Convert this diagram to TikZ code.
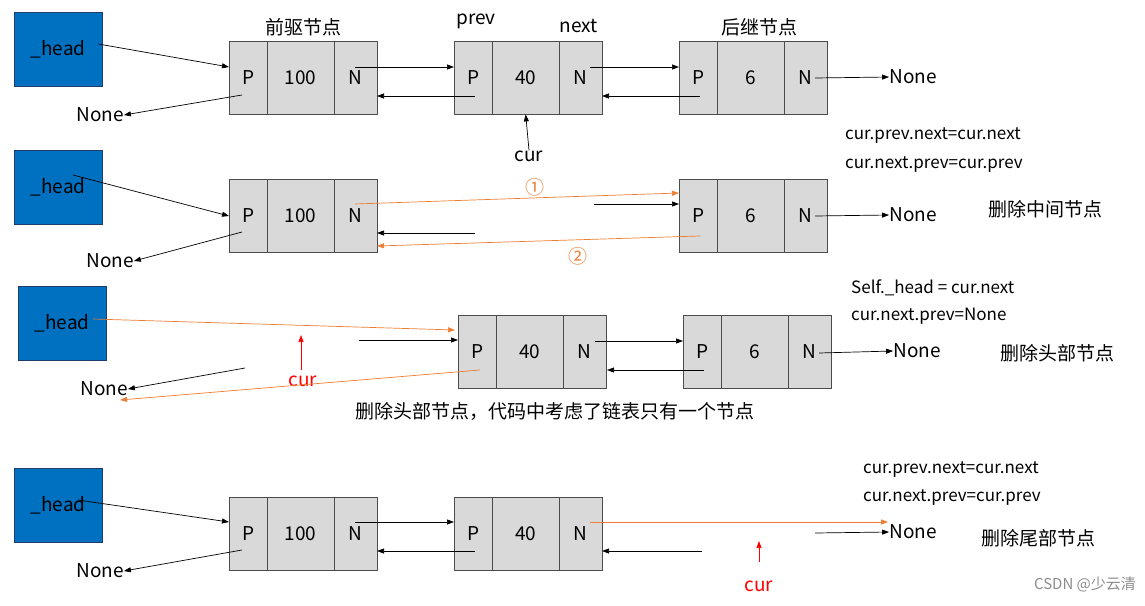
\documentclass[tikz,border=0pt]{standalone}
\usepackage{fontspec}
\setmainfont{Noto Sans CJK SC}
\usetikzlibrary{arrows.meta}
\definecolor{hblue}{RGB}{0,112,192}
\definecolor{hborder}{RGB}{30,60,110}
\definecolor{orng}{RGB}{237,125,49}
\definecolor{cellg}{RGB}{217,217,217}
\tikzset{
  headbox/.style={draw=hborder,fill=hblue,minimum width=88pt,minimum height=74pt,inner sep=0,font=\fontsize{19}{20}\selectfont},
  cell/.style={draw=black!70,fill=cellg,minimum height=73pt,inner sep=0,font=\fontsize{19}{20}\selectfont},
  lbl/.style={font=\fontsize{19}{20}\selectfont,inner sep=0},
  cjk/.style={font=\fontsize{19}{20}\selectfont,inner sep=0},
  code/.style={font=\fontsize{17}{18}\selectfont,inner sep=0,anchor=west},
  ar/.style={-{Triangle[length=7pt,width=5pt]},line width=0.7pt},
  oar/.style={ar,draw=orng},
  rar/.style={ar,draw=red},
}
\newcommand{\llnode}[4]{%
  \node[cell,minimum width=38pt,anchor=north west] (#1p) at (#2,#3) {P};
  \node[cell,minimum width=67pt,anchor=north west] (#1v) at (#2+38,#3) {#4};
  \node[cell,minimum width=43pt,anchor=north west] (#1n) at (#2+105,#3) {N};
}
\begin{document}
\begin{tikzpicture}[x=1pt,y=-1pt]
\useasboundingbox (0,0) rectangle (1145,605);
% ---------- row 1
\node[headbox,anchor=north west] (h1) at (14,12) {\_head};
\llnode{a}{229}{41}{100}
\llnode{b}{454}{41}{40}
\llnode{c}{679}{41}{6}
\node[cjk] (t1) at (303,27) {前驱节点};
\node[lbl] (t2) at (476,21) {prev};
\node[lbl] (t3) at (579,26) {next};
\node[cjk] (t4) at (759,27) {后继节点};
\node[lbl] (n1) at (100,115) {None};
\node[lbl] (n2) at (913,77) {None};
\node[lbl] (cur1) at (529,156) {cur};
\draw[ar] (h1.north east)++(-4,32) -- (229,67);
\draw[ar] (242,95) -- (n1.east);
\draw[ar] (355,67) -- (454,67);
\draw[ar] (475,96) -- (377,96);
\draw[ar] (590,67) -- (679,67);
\draw[ar] (700,96) -- (602,96);
\draw[ar] (815,78) -- (n2.west);
\draw[ar] (cur1.north) -- (bv.south);
% ---------- row 2
\node[headbox,anchor=north west] (h2) at (14,150) {\_head};
\llnode{d}{229}{179}{100}
\llnode{e}{679}{179}{6}
\node[lbl] (n3) at (110,261) {None};
\node[lbl] (n4) at (913,215) {None};
\node[lbl,text=orng] (c1) at (535,187) {①};
\node[lbl,text=orng] (c2) at (578,256) {②};
\draw[ar] (73,175) -- (229,216);
\draw[ar] (242,232) -- (n3.east);
\draw[oar] (355,204) -- (679,193);
\draw[ar] (594,204) -- (679,204);
\draw[ar] (475,233) -- (377,233);
\draw[oar] (700,236) -- (377,246);
\draw[ar] (815,216) -- (n4.west);
\node[code] (s1) at (845,136) {cur.prev.next=cur.next};
\node[code] (s2) at (845,165) {cur.next.prev=cur.prev};
\node[cjk] (s3) at (1045,209) {删除中间节点};
% ---------- row 3
\node[headbox,anchor=north west] (h3) at (18,286) {\_head};
\llnode{f}{458}{315}{40}
\llnode{g}{683}{315}{6}
\node[lbl] (n5) at (104,389) {None};
\node[lbl] (n6) at (917,351) {None};
\node[lbl,text=red] (cur3) at (303,381) {cur};
\draw[oar] (93,319) -- (455,330);
\draw[ar] (359,340) -- (458,340);
\draw[rar] (301,370) -- (301,335);
\draw[ar] (245,368) -- (n5.east);
\draw[oar] (480,370) -- (120,400);
\draw[ar] (595,341) -- (683,341);
\draw[ar] (704,370) -- (607,370);
\draw[ar] (819,353) -- (n6.west);
\node[code] (s4) at (851,288) {Self.\_head = cur.next};
\node[code] (s5) at (851,316) {cur.next.prev=None};
\node[cjk] (s6) at (1057,353) {删除头部节点};
\node[cjk] (s7) at (555,411) {删除头部节点，代码中考虑了链表只有一个节点};
% ---------- row 4
\node[headbox,anchor=north west] (h4) at (14,468) {\_head};
\llnode{i}{229}{497}{100}
\llnode{j}{454}{497}{40}
\node[lbl] (n7) at (100,571) {None};
\node[lbl] (n8) at (913,532) {None};
\node[lbl,text=red] (cur4) at (759,586) {cur};
\draw[ar] (78,500) -- (229,522);
\draw[ar] (242,550) -- (n7.east);
\draw[ar] (355,522) -- (454,522);
\draw[ar] (475,551) -- (377,551);
\draw[oar] (590,522) -- (888,522);
\draw[ar] (702,551) -- (602,551);
\draw[ar] (815,533) -- (n8.west);
\draw[rar] (759,562) -- (759,541);
\node[code] (s8) at (863,470) {cur.prev.next=cur.next};
\node[code] (s9) at (863,498) {cur.next.prev=cur.prev};
\node[cjk] (s10) at (1038,538) {删除尾部节点};
\node[font=\fontsize{15}{16}\selectfont,text=black!45,inner sep=0] (wm) at (1085,584) {CSDN @少云清};
\end{tikzpicture}
\end{document}
